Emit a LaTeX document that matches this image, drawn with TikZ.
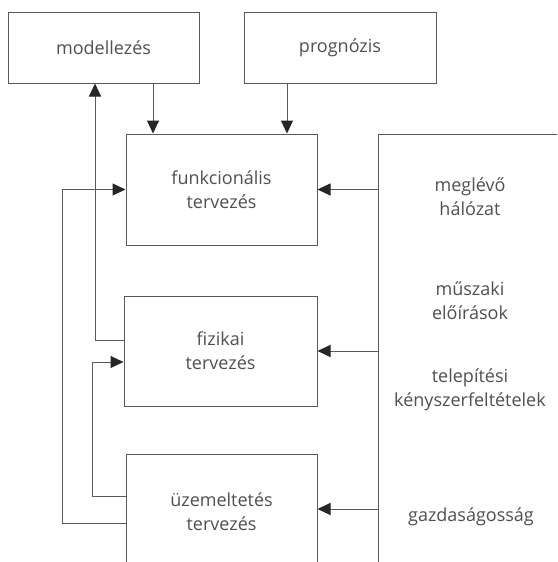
\documentclass[tikz,border=0pt]{standalone}
\usepackage{fontspec}
\setmainfont{Open Sans}
\usetikzlibrary{arrows.meta}
\definecolor{lc}{HTML}{5A5A5A}
\definecolor{tc}{HTML}{505050}
\begin{document}
\begin{tikzpicture}[x=1pt,y=-1pt,
  box/.style={draw=lc,line width=1pt,inner sep=0pt,align=center,text=tc,
    font=\fontsize{18}{24}\selectfont},
  lbl/.style={inner sep=0pt,align=center,text=tc,font=\fontsize{18}{24}\selectfont},
  arr/.style={draw=lc,line width=1pt,-{Triangle[length=13pt,width=12pt,color=black!85]}}]
\clip (0,0) rectangle (557,562);
\fill[white] (0,0) rectangle (557,562);
\node[box,minimum width=191pt,minimum height=71pt] (mod) at (103.5,47.5) {modellezés};
\node[box,minimum width=192pt,minimum height=71pt] (prog) at (340,47.5) {prognózis};
\node[box,minimum width=191pt,minimum height=111pt] (fun) at (221.5,189.5) {funkcionális\\tervezés};
\node[box,minimum width=193pt,minimum height=110pt] (fiz) at (220.5,351) {fizikai\\tervezés};
\node[box,minimum width=191pt,minimum height=116pt] (uz) at (221.5,512) {üzemeltetés\\tervezés};
\node[draw=lc,line width=1pt,inner sep=0pt,minimum width=200pt,minimum height=450pt,anchor=north west] (panel) at (378,134) {};
\node[lbl] (t1) at (470,197) {meglévő\\hálózat};
\node[lbl] (t2) at (470,301) {műszaki\\előírások};
\node[lbl] (t3) at (470,390) {telepítési\\kényszerfeltételek};
\node[lbl] (t4) at (471,517) {gazdaságosság};
\draw[arr] ([xshift=49.5pt]mod.south) -- ([xshift=49.5pt]mod.south |- fun.north);
\draw[arr] ([xshift=-53pt]prog.south) -- ([xshift=-53pt]prog.south |- fun.north);
\draw[arr] ([yshift=11pt]fiz.west) -| ([xshift=-8.5pt]mod.south);
\draw[arr] ([yshift=16pt]uz.west) -- ++(-33,0) |- ([yshift=-11pt]fiz.west);
\draw[arr] ([yshift=-11pt]uz.west) -- ++(-63,0) |- (fun.west);
\draw[arr] (panel.west |- fun.east) -- (fun.east);
\draw[arr] (panel.west |- fiz.east) -- (fiz.east);
\draw[arr] ([yshift=3pt]panel.west |- uz.east) -- ([yshift=3pt]uz.east);
\end{tikzpicture}
\end{document}
